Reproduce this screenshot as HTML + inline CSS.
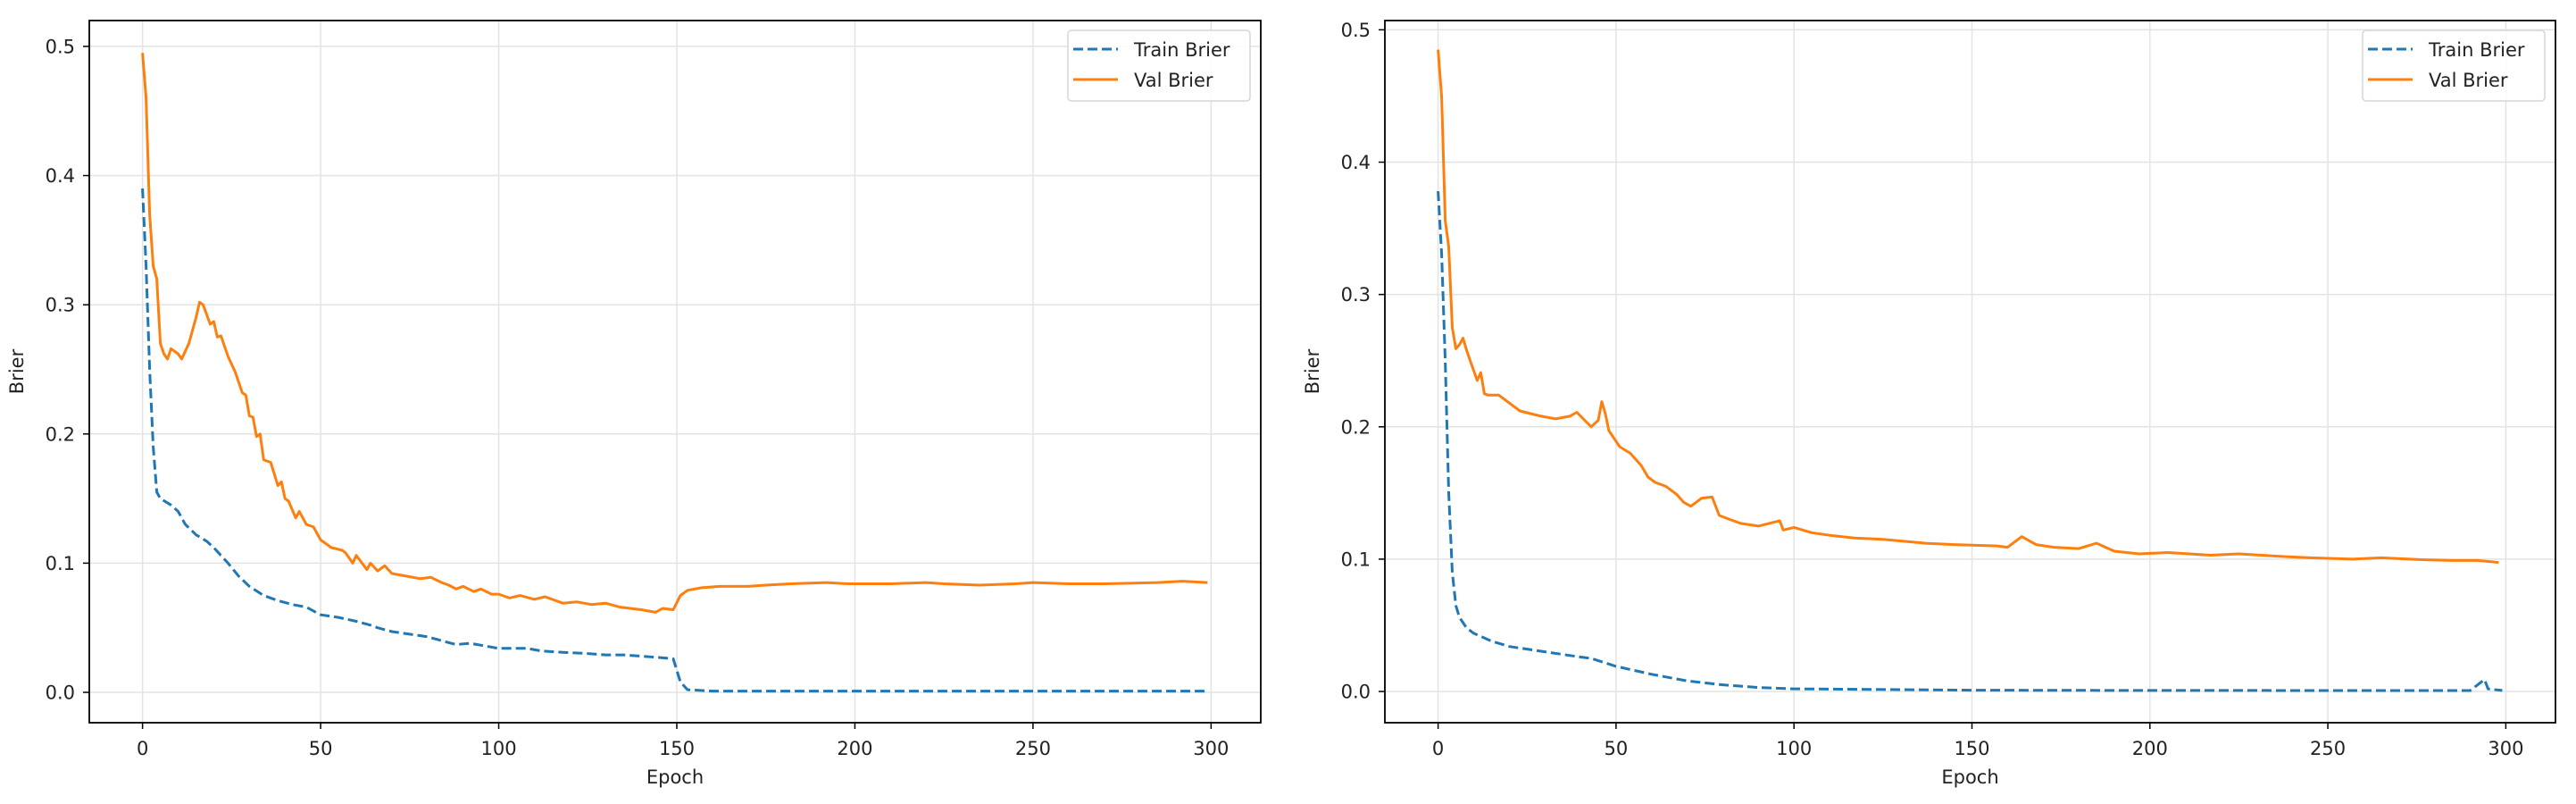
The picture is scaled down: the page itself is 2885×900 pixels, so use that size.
<!DOCTYPE html>
<html><head><meta charset="utf-8"><style>
html,body{margin:0;padding:0;background:#fff;}
svg{display:block;font-family:"DejaVu Sans","Liberation Sans",sans-serif;}
</style></head><body>
<svg id="fig" width="2885" height="900" viewBox="0 0 2885 900" xmlns="http://www.w3.org/2000/svg"></svg>
<script>
// Left chart data (epoch, value) pairs
const leftTrainEpochs = [0,1,2,3,4,5,8,10,12,15,18,20,24,27,30,34,38,42,46,50,55,60,64,66,70,75,80,84,88,92,96,100,108,112,118,125,130,135,140,145,149,151,153,160,200,250,299];
const leftTrainValues = [0.39,0.33,0.25,0.19,0.155,0.15,0.145,0.14,0.13,0.122,0.117,0.112,0.1,0.09,0.082,0.075,0.071,0.068,0.066,0.06,0.058,0.055,0.052,0.05,0.047,0.045,0.043,0.04,0.037,0.038,0.036,0.034,0.034,0.032,0.031,0.030,0.029,0.029,0.028,0.027,0.026,0.008,0.002,0.001,0.001,0.001,0.001];
const leftValEpochs = [0,1,2,3,4,5,6,7,8,10,11,13,15,16,17,19,20,21,22,24,26,28,29,30,31,32,33,34,36,38,39,40,41,43,44,46,48,50,53,56,57,59,60,63,64,66,68,70,74,78,81,84,86,88,90,93,95,98,100,103,106,110,113,118,122,126,130,134,140,144,146,149,151,153,157,162,170,175,182,192,198,210,220,225,235,245,250,260,270,285,292,299];
const leftValValues = [0.495,0.46,0.37,0.33,0.32,0.27,0.262,0.258,0.266,0.262,0.258,0.27,0.29,0.302,0.30,0.285,0.287,0.275,0.276,0.26,0.248,0.232,0.23,0.214,0.213,0.198,0.2,0.18,0.178,0.16,0.163,0.15,0.148,0.135,0.14,0.13,0.128,0.118,0.112,0.11,0.108,0.1,0.106,0.095,0.1,0.094,0.098,0.092,0.09,0.088,0.089,0.085,0.083,0.08,0.082,0.078,0.08,0.076,0.076,0.073,0.075,0.072,0.074,0.069,0.07,0.068,0.069,0.066,0.064,0.062,0.065,0.064,0.075,0.079,0.081,0.082,0.082,0.083,0.084,0.085,0.084,0.084,0.085,0.084,0.083,0.084,0.085,0.084,0.084,0.085,0.086,0.085];
// Right chart data
const rightTrainEpochs = [0,1,2,3,4,5,6,8,10,15,20,30,40,43,50,60,70,80,90,100,150,200,290,294,295,299];
const rightTrainValues = [0.378,0.33,0.25,0.15,0.09,0.065,0.056,0.048,0.044,0.038,0.034,0.03,0.026,0.025,0.019,0.013,0.008,0.005,0.003,0.002,0.001,0.0008,0.0007,0.009,0.002,0.0008];
const rightValEpochs = [0,1,2,3,4,5,6,7,8,9,11,12,13,14,17,20,23,26,29,33,37,39,43,45,46,47,48,51,54,57,59,61,64,67,69,71,74,77,79,82,85,90,96,97,100,105,110,117,125,137,145,157,160,164,168,173,180,185,190,197,205,217,225,237,245,257,265,277,285,292,298];
const rightValValues = [0.485,0.449,0.356,0.336,0.275,0.259,0.262,0.267,0.258,0.25,0.235,0.241,0.225,0.224,0.224,0.218,0.212,0.21,0.208,0.206,0.208,0.211,0.2,0.205,0.219,0.21,0.197,0.185,0.18,0.171,0.162,0.158,0.155,0.149,0.143,0.14,0.146,0.147,0.133,0.13,0.127,0.125,0.129,0.122,0.124,0.12,0.118,0.116,0.115,0.112,0.111,0.11,0.109,0.117,0.111,0.109,0.108,0.112,0.106,0.104,0.105,0.103,0.104,0.102,0.101,0.1,0.101,0.0995,0.099,0.099,0.0975];
const xTicks = [0,50,100,150,200,250,300];
const yTicks = [0.0,0.1,0.2,0.3,0.4,0.5];
const seriesLabels = ["Train Brier","Val Brier"];

const NS = "http://www.w3.org/2000/svg";
const fig = document.getElementById('fig');
function mk(tag, attrs, parent){
  const e = document.createElementNS(NS, tag);
  for (const k in attrs) e.setAttribute(k, attrs[k]);
  (parent||fig).appendChild(e);
  return e;
}
function panel(cfg){
  const g = mk('g', {});
  
  
  const L=cfg.left, R=cfg.right, T=23, B=809;
  const xmin=-14.95, xmax=313.95;
  const sx = v => L + (v - xmin) / (xmax - xmin) * (R - L);
  const sy = v => B - (v - cfg.ymin) / (cfg.ymax - cfg.ymin) * (B - T);
  // grid
  xTicks.forEach(t => {
    const l = mk('line', {x1:sx(t), x2:sx(t), y1:T, y2:B, stroke:'#e3e3e3', 'stroke-width':1.5}, g);
    
    
  });
  yTicks.forEach(t => {
    const l = mk('line', {x1:L, x2:R, y1:sy(t), y2:sy(t), stroke:'#e3e3e3', 'stroke-width':1.5}, g);
    
    
  });
  // series
  const pts = (ex, vals) => ex.map((e,i)=> sx(e).toFixed(1)+','+sy(vals[i]).toFixed(1)).join(' ');
  const tr = mk('polyline', {points:pts(cfg.trainE, cfg.trainV), fill:'none', stroke:'#1f77b4', 'stroke-width':3, 'stroke-dasharray':'11,5', 'stroke-linejoin':'round'}, g);
  
  
  const va = mk('polyline', {points:pts(cfg.valE, cfg.valV), fill:'none', stroke:'#ff7f0e', 'stroke-width':3, 'stroke-linejoin':'round'}, g);
  
  
  // frame
  const fr = mk('rect', {x:L, y:T, width:R-L, height:B-T, fill:'none', stroke:'#000', 'stroke-width':1.8}, g);
  
  
  // ticks
  xTicks.forEach(t => {
    mk('line', {x1:sx(t), x2:sx(t), y1:B, y2:B+7, stroke:'#000', 'stroke-width':1.5}, g);
    const tx = mk('text', {x:sx(t), y:845, 'font-size':21, 'text-anchor':'middle', fill:'#222'}, g);
    tx.textContent = String(t);
    
    
  });
  yTicks.forEach(t => {
    mk('line', {x1:L-7, x2:L, y1:sy(t), y2:sy(t), stroke:'#000', 'stroke-width':1.5}, g);
    const tx = mk('text', {x:L-16, y:sy(t)+7.5, 'font-size':21, 'text-anchor':'end', fill:'#222'}, g);
    tx.textContent = t.toFixed(1);
    
    
  });
  const xl = mk('text', {x:(L+R)/2, y:877, 'font-size':21, 'text-anchor':'middle', fill:'#222'}, g);
  xl.textContent = 'Epoch';
  
  
  const yl = mk('text', {x:0, y:0, 'font-size':21, 'text-anchor':'middle', fill:'#222', transform:`translate(${L-74},${(T+B)/2}) rotate(-90)`}, g);
  yl.textContent = 'Brier';
  
  
  // legend
  const lg = mk('g', {}, g);
  
  
  const lx = R - 216;
  mk('rect', {x:lx, y:34, width:204, height:79, rx:4, fill:'#fff', 'fill-opacity':0.85, stroke:'#d6d6d6', 'stroke-width':1.5}, lg);
  mk('line', {x1:lx+6, x2:lx+56, y1:55, y2:55, stroke:'#1f77b4', 'stroke-width':3, 'stroke-dasharray':'11,5'}, lg);
  mk('line', {x1:lx+6, x2:lx+56, y1:89, y2:89, stroke:'#ff7f0e', 'stroke-width':3}, lg);
  const t1 = mk('text', {x:lx+74, y:63, 'font-size':21, fill:'#222'}, lg);
  t1.textContent = seriesLabels[0];
  
  
  const t2 = mk('text', {x:lx+74, y:97, 'font-size':21, fill:'#222'}, lg);
  t2.textContent = seriesLabels[1];
  
  
}
panel({name:'left-chart', left:100, right:1412, ymin:-0.0235, ymax:0.52,
  trainE:leftTrainEpochs, trainV:leftTrainValues, valE:leftValEpochs, valV:leftValValues});
panel({name:'right-chart', left:1551, right:2862, ymin:-0.0236, ymax:0.507,
  trainE:rightTrainEpochs, trainV:rightTrainValues, valE:rightValEpochs, valV:rightValValues});
</script>
</body></html>
